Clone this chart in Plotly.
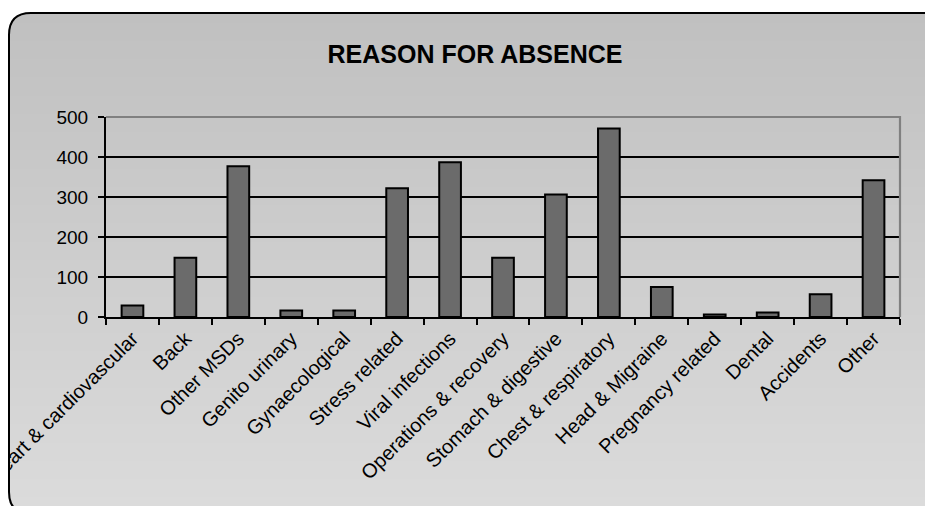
import zlib, struct, base64
import plotly.graph_objects as go

categories = ["Heart & cardiovascular", "Back", "Other MSDs", "Genito urinary",
              "Gynaecological", "Stress related", "Viral infections",
              "Operations & recovery", "Stomach & digestive", "Chest & respiratory",
              "Head & Migraine", "Pregnancy related", "Dental", "Accidents", "Other"]
values = [29, 148, 377, 16, 16, 322, 387, 148, 306, 471, 75, 6, 11, 57, 342]
y_ticks = [0, 100, 200, 300, 400, 500]

# page body adds an 8px offset; work in screen pixels and subtract it
OFF = 8
W, H = 933, 506
ML, MT = 106 - OFF, 117 - OFF
PW, PH = 794, 200
MR, MB = W - ML - PW, H - MT - PH

# rounded chart-area box (screen pixels)
BX0, BY0, BX1, BY1, RAD = 9, 13, 946, 514, 22


def make_bg_png():
    rows = []
    for yy in range(H):
        y = yy + OFF
        t = min(max((y - BY0) / (506 - BY0), 0), 1)
        g = int(round(192 + (219 - 192) * t))
        row = bytearray([0])
        for xx in range(W):
            x = xx + OFF
            cx = min(max(x + 0.5, BX0 + RAD), BX1 - RAD)
            cy = min(max(y + 0.5, BY0 + RAD), BY1 - RAD)
            if BX0 <= x + 0.5 <= BX1 and BY0 <= y + 0.5 <= BY1:
                d = ((x + 0.5 - cx) ** 2 + (y + 0.5 - cy) ** 2) ** 0.5
                a = min(max(RAD + 0.5 - d, 0), 1)
            else:
                a = 0
            row += bytes([g, g, g, int(a * 255)])
        rows.append(bytes(row))
    raw = b"".join(rows)

    def chunk(tag, data):
        c = struct.pack(">I", len(data)) + tag + data
        return c + struct.pack(">I", zlib.crc32(tag + data) & 0xffffffff)

    png = b"\x89PNG\r\n\x1a\n"
    png += chunk(b"IHDR", struct.pack(">IIBBBBB", W, H, 8, 6, 0, 0, 0))
    png += chunk(b"IDAT", zlib.compress(raw, 9))
    png += chunk(b"IEND", b"")
    return "data:image/png;base64," + base64.b64encode(png).decode()


def px(x):  # screen x -> paper
    return (x - OFF - ML) / PW


def py(y):  # screen y -> paper
    return (H - MB - (y - OFF)) / PH


fig = go.Figure()
fig.add_trace(go.Bar(
    x=categories, y=values,
    marker=dict(color="#6b6b6b", line=dict(color="black", width=2)),
))

path = (f"M {px(BX0)},{py(BY0 + RAD)} "
        f"Q {px(BX0)},{py(BY0)} {px(BX0 + RAD)},{py(BY0)} "
        f"L {px(BX1 - RAD)},{py(BY0)} "
        f"Q {px(BX1)},{py(BY0)} {px(BX1)},{py(BY0 + RAD)} "
        f"L {px(BX1)},{py(BY1 - RAD)} "
        f"Q {px(BX1)},{py(BY1)} {px(BX1 - RAD)},{py(BY1)} "
        f"L {px(BX0 + RAD)},{py(BY1)} "
        f"Q {px(BX0)},{py(BY1)} {px(BX0)},{py(BY1 - RAD)} Z")

fig.update_layout(
    width=W, height=H,
    margin=dict(l=ML, r=MR, t=MT, b=MB, autoexpand=False),
    paper_bgcolor="white",
    plot_bgcolor="#c0c0c0",
    bargap=0.59,
    showlegend=False,
    font=dict(family="Liberation Sans, Arial, sans-serif", size=19, color="black"),
    title=dict(text="<b>REASON FOR ABSENCE</b>", x=(475 - OFF) / W, xanchor="center",
               y=1 - (54 - OFF) / H, yanchor="middle", yref="container",
               font=dict(size=25, color="black")),
    images=[dict(source=make_bg_png(), xref="paper", yref="paper",
                 x=px(OFF), y=py(OFF), sizex=W / PW, sizey=H / PH,
                 xanchor="left", yanchor="top", sizing="stretch", layer="below")],
    shapes=[
        dict(type="path", path=path, xref="paper", yref="paper",
             line=dict(color="black", width=2), fillcolor="rgba(0,0,0,0)", layer="above"),
        dict(type="path", path="M 0,1 L 1,1 L 1,0", xref="paper", yref="paper",
             line=dict(color="#808080", width=2.2), layer="above"),
    ],
)

fig.update_xaxes(
    type="category", tickangle=-45, showline=True, linecolor="black", linewidth=2,
    ticks="outside", ticklen=6, tickcolor="black", tickwidth=2,
    tickson="boundaries", showgrid=False, automargin=False,
    tickfont=dict(size=20),
)
fig.update_yaxes(
    range=[0, 500], tickvals=y_ticks, showline=True, linecolor="black", linewidth=2,
    ticks="outside", ticklen=6, tickcolor="black", tickwidth=2,
    showgrid=True, gridcolor="black", gridwidth=2, zeroline=False,
    automargin=False, tickfont=dict(size=19), ticklabelstandoff=6,
)

fig.write_html("out.html")
